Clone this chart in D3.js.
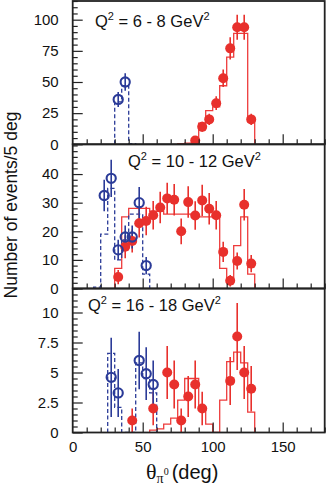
<!DOCTYPE html>
<html><head><meta charset="utf-8">
<script src="https://cdn.jsdelivr.net/npm/d3@7"></script>
<style>
html,body{margin:0;padding:0;background:#fff;}
svg{display:block;font-family:"Liberation Sans",Arial,Helvetica,sans-serif;}
</style></head>
<body><svg id="c" width="326" height="491"></svg>
<script>
// ---------- DATA ----------
// Panel 1: Q2 = 6-8
const p1RedX = [87.5, 92.5, 97.5, 102.5, 107.5, 112.5, 117.5, 122.5, 127.5];
const p1RedY = [3, 14, 20, 33, 53, 77, 94, 94, 20];
const p1RedErr = [2, 4, 4.5, 5.5, 7, 9, 10, 10, 4.5];
const p1BlueX = [32.5, 37.5];
const p1BlueY = [36, 50];
const p1BlueErr = [6, 7];
const p1RedHistEdges = [75, 80, 85, 90, 95, 100, 105, 110, 115, 120, 125, 130];
const p1RedHist = [0.5, 1, 2, 17, 27, 30, 47, 70, 89, 89, 18];
const p1BlueHistEdges = [30, 35, 40, 45];
const p1BlueHist = [34, 47, 0.6];

// Panel 2: Q2 = 10-12
const p2RedX = [32.5, 37.5, 42.5, 47.5, 52.5, 57.5, 62.5, 67.5, 72.5, 77.5, 82.5, 87.5, 92.5, 97.5, 102.5, 107.5, 112.5, 117.5, 122.5, 127.5];
const p2RedY = [4, 14.6, 16.6, 22.8, 23.6, 25.6, 28.3, 31.5, 31, 20, 30.2, 25.5, 30.8, 27.9, 25.6, 12.8, 2.7, 9.6, 29.3, 8.7];
const p2RedErr = [2.5, 4, 4, 5, 5, 5, 5.5, 5.5, 5.5, 4.5, 5.5, 5, 5.5, 5.5, 5, 3.5, 2, 3, 5.5, 3];
const p2BlueX = [22.5, 27.5, 32.5, 37.5, 42.5, 47.5, 52.5];
const p2BlueY = [32.5, 38.5, 13.5, 18, 18, 30, 8];
const p2BlueErr = [5.5, 6.5, 3.5, 4, 4, 5.5, 3];
const p2RedHistEdges = [30, 35, 40, 45, 50, 55, 60, 65, 70, 75, 80, 85, 90, 95, 100, 105, 110, 115, 120, 125, 130];
const p2RedHist = [7, 25, 28, 28, 28, 27, 27, 26, 26, 26, 26, 25, 25, 25, 25, 7, 3, 15, 25, 5];
const p2BlueHistEdges = [15, 20, 25, 30, 35, 40, 45, 50, 55];
const p2BlueHist = [0.5, 19, 35, 10, 17, 26, 26, 5];

// Panel 3: Q2 = 16-18
const p3RedX = [42.5, 57.5, 67.5, 72.5, 77.5, 82.5, 87.5, 92.5, 112.5, 117.5, 122.5, 127.5];
const p3RedY = [1, 2, 5, 4, 1, 3, 4, 2, 4.3, 8, 5, 3.65];
const p3RedErr = [1, 1.4, 2.2, 2, 1, 1.7, 2, 1.4, 2, 2.8, 2.2, 1.9];
const p3BlueX = [27.5, 32.5, 47.5, 52.5, 57.5];
const p3BlueY = [4.6, 3.3, 6.0, 4.9, 4.0];
const p3BlueErr = [3.3, 2.0, 2.4, 2.2, 2.0];
const p3RedHistEdges = [55, 60, 65, 70, 75, 80, 85, 90, 95, 100, 105, 110, 115, 120, 125, 130];
const p3RedHist = [0.2, 0.3, 0.7, 1.2, 2.7, 4.5, 4.5, 2, 0.7, 0, 2.7, 5.9, 6.7, 5.8, 1.7];
const p3BlueHistEdges = [25, 30, 35, 40, 45, 50, 55, 60];
const p3BlueHist = [6.6, 2.1, 0, 0, 5.8, 4.5, 3.3];

// Axis ticks & labels
const xDomain = [0, 180];
const xTickValues = [0, 50, 100, 150];
const xTickLabels = ["0", "50", "100", "150"];
const p1YDomain = [0, 115];
const p1YTicks = [0, 25, 50, 75, 100];
const p1YLabels = ["0", "25", "50", "75", "100"];
const p2YDomain = [0, 50.4];
const p2YTicks = [0, 10, 20, 30, 40];
const p2YLabels = ["0", "10", "20", "30", "40"];
const p3YDomain = [0, 12];
const p3YTicks = [0, 2.5, 5, 7.5, 10];
const p3YLabels = ["0", "2.5", "5", "7.5", "10"];
const titles = ["6 - 8", "10 - 12", "16 - 18"];

// ---------- DRAW ----------
const svg = d3.select("#c");
const RED = "#e8302c", REDH = "#ee3b3b", BLUE = "#2b3b98";
const left = 72.7, right = 324.7;
const x = d3.scaleLinear().domain(xDomain).range([left, right]);

const panels = [
  {top: 1, bottom: 144.3, yDom: p1YDomain, ticks: p1YTicks, labels: p1YLabels, minor: 5,
   rX: p1RedX, rY: p1RedY, rE: p1RedErr, bX: p1BlueX, bY: p1BlueY, bE: p1BlueErr,
   rHE: p1RedHistEdges, rH: p1RedHist, bHE: p1BlueHistEdges, bH: p1BlueHist,
   title: titles[0], tx: 95, ty: 27},
  {top: 144.3, bottom: 288.5, yDom: p2YDomain, ticks: p2YTicks, labels: p2YLabels, minor: 2,
   rX: p2RedX, rY: p2RedY, rE: p2RedErr, bX: p2BlueX, bY: p2BlueY, bE: p2BlueErr,
   rHE: p2RedHistEdges, rH: p2RedHist, bHE: p2BlueHistEdges, bH: p2BlueHist,
   title: titles[1], tx: 128, ty: 167},
  {top: 288.5, bottom: 432.5, yDom: p3YDomain, ticks: p3YTicks, labels: p3YLabels, minor: 0.5,
   rX: p3RedX, rY: p3RedY, rE: p3RedErr, bX: p3BlueX, bY: p3BlueY, bE: p3BlueErr,
   rHE: p3RedHistEdges, rH: p3RedHist, bHE: p3BlueHistEdges, bH: p3BlueHist,
   title: titles[2], tx: 88, ty: 311}
];

function histPoints(edges, vals) {
  const pts = [[edges[0], 0]];
  vals.forEach((v, i) => { pts.push([edges[i], v]); pts.push([edges[i + 1], v]); });
  pts.push([edges[edges.length - 1], 0]);
  return pts;
}

panels.forEach(p => {
  const y = d3.scaleLinear().domain(p.yDom).range([p.bottom, p.top]);
  const g = svg.append("g");
  const clipId = "clip" + Math.round(p.top);
  svg.append("clipPath").attr("id", clipId).append("rect")
    .attr("x", left).attr("y", p.top).attr("width", right - left).attr("height", p.bottom - p.top);
  const gd = g.append("g").attr("clip-path", `url(#${clipId})`);
  const line = d3.line().x(d => x(d[0])).y(d => y(d[1]));

  // histograms
  gd.append("path").attr("d", line(histPoints(p.rHE, p.rH)))
    .attr("fill", "none").attr("stroke", REDH).attr("stroke-width", 1.3);
  gd.append("path").attr("d", line(histPoints(p.bHE, p.bH)))
    .attr("fill", "none").attr("stroke", BLUE).attr("stroke-width", 1.3).attr("stroke-dasharray", "4,2.5");

  // error bars
  gd.selectAll(".re").data(p.rX).join("line")
    .attr("x1", d => x(d)).attr("x2", d => x(d))
    .attr("y1", (d, i) => y(p.rY[i] - p.rE[i])).attr("y2", (d, i) => y(p.rY[i] + p.rE[i]))
    .attr("stroke", RED).attr("stroke-width", 1.6);
  gd.selectAll(".be").data(p.bX).join("line")
    .attr("x1", d => x(d)).attr("x2", d => x(d))
    .attr("y1", (d, i) => y(p.bY[i] - p.bE[i])).attr("y2", (d, i) => y(p.bY[i] + p.bE[i]))
    .attr("stroke", BLUE).attr("stroke-width", 1.6);

  // points
  gd.selectAll(".rp").data(p.rX).join("circle")
    .attr("cx", d => x(d)).attr("cy", (d, i) => y(p.rY[i])).attr("r", 5)
    .attr("fill", RED);
  gd.selectAll(".bp").data(p.bX).join("circle")
    .attr("cx", d => x(d)).attr("cy", (d, i) => y(p.bY[i])).attr("r", 4.6)
    .attr("fill", "none").attr("stroke", BLUE).attr("stroke-width", 2.1);

  // frame
  g.append("rect").attr("x", left).attr("y", p.top).attr("width", right - left).attr("height", p.bottom - p.top)
    .attr("fill", "none").attr("stroke", "#222").attr("stroke-width", 1.8);

  // y axis ticks (inward)
  const minorVals = d3.range(p.yDom[0], p.yDom[1] + 1e-9, p.minor).filter(v => !p.ticks.some(t => Math.abs(t - v) < 1e-9));
  g.append("g").attr("transform", `translate(${left},0)`)
    .call(d3.axisLeft(y).tickValues(minorVals).tickSize(-5).tickFormat(""))
    .call(a => a.select(".domain").remove())
    .call(a => a.selectAll("line").attr("stroke", "#222").attr("stroke-width", 1.2));
  g.append("g").attr("transform", `translate(${left},0)`)
    .call(d3.axisLeft(y).tickValues(p.ticks).tickSize(-10).tickPadding(14)
      .tickFormat((d, i) => p.labels[i]))
    .call(a => a.select(".domain").remove())
    .call(a => a.selectAll("line").attr("stroke", "#222").attr("stroke-width", 1.2))
    .call(a => a.selectAll("text").attr("font-size", 15).attr("fill", "#111")
      .attr("font-family", "Liberation Sans, Arial, sans-serif"));

  // x axis ticks (inward, at bottom)
  const xMinor = d3.range(0, 181, 10).filter(v => v % 50 !== 0);
  g.append("g").attr("transform", `translate(0,${p.bottom})`)
    .call(d3.axisBottom(x).tickValues(xMinor).tickSize(-5).tickFormat(""))
    .call(a => a.select(".domain").remove())
    .call(a => a.selectAll("line").attr("stroke", "#222").attr("stroke-width", 1.2));
  g.append("g").attr("transform", `translate(0,${p.bottom})`)
    .call(d3.axisBottom(x).tickValues(xTickValues.filter(v => v > 0)).tickSize(-10).tickFormat(""))
    .call(a => a.select(".domain").remove())
    .call(a => a.selectAll("line").attr("stroke", "#222").attr("stroke-width", 1.2));

  // title
  const t = svg.append("text").attr("x", p.tx).attr("y", p.ty).attr("font-size", 16.5).attr("fill", "#111");
  t.append("tspan").text("Q");
  t.append("tspan").attr("font-size", 11).attr("dy", -7).text("2");
  t.append("tspan").attr("dy", 7).text(" = " + p.title + " GeV");
  t.append("tspan").attr("font-size", 11).attr("dy", -7).text("2");
});

// x tick labels (bottom panel)
svg.append("g").attr("transform", `translate(0,${432.5})`)
  .call(d3.axisBottom(x).tickValues(xTickValues).tickSize(0).tickPadding(9).tickFormat((d, i) => xTickLabels[i]))
  .call(a => a.select(".domain").remove())
  .call(a => a.selectAll("text").attr("font-size", 15).attr("fill", "#111")
    .attr("font-family", "Liberation Sans, Arial, sans-serif"));

// x axis title
const xt = svg.append("text").attr("x", 146).attr("y", 479).attr("fill", "#111");
xt.append("tspan").attr("font-family", "Liberation Serif, Times New Roman, serif").attr("font-size", 22).text("θ");
xt.append("tspan").attr("font-family", "Liberation Serif, Times New Roman, serif").attr("font-size", 14).attr("dy", 4).text("π");
xt.append("tspan").attr("font-family", "Liberation Serif, Times New Roman, serif").attr("font-size", 10).attr("dy", -8).text("0");
xt.append("tspan").attr("font-size", 20).attr("dy", 4).attr("dx", 3).text("(deg)");

// y axis title
svg.append("text").attr("transform", "translate(16.5,205) rotate(-90)")
  .attr("text-anchor", "middle").attr("font-size", 17.5).attr("fill", "#111")
  .text("Number of events/5 deg");
</script></body></html>
